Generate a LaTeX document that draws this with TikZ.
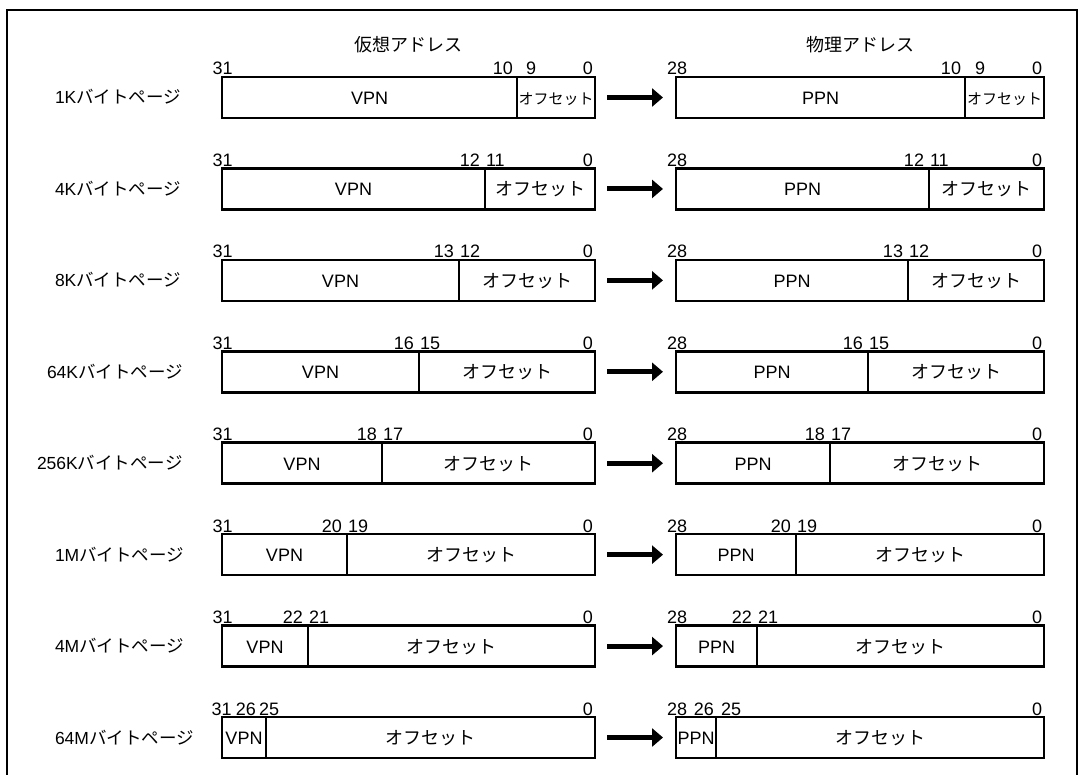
\documentclass[tikz,border=0pt]{standalone}
\usepackage{fontspec}
\setmainfont{Liberation Sans}
\newfontfamily\jp{Noto Sans CJK JP}
\usetikzlibrary{arrows.meta}
\begin{document}
\begin{tikzpicture}[x=1pt,y=-1pt,
  lbox/.style={draw, line width=2.5pt, rectangle, minimum width=373pt, minimum height=41pt, inner sep=0pt, outer sep=0pt, anchor=west},
  rbox/.style={draw, line width=2.5pt, rectangle, minimum width=368pt, minimum height=41pt, inner sep=0pt, outer sep=0pt, anchor=west},
  divline/.style={line width=1.3pt},
  txt/.style={inner sep=0pt, outer sep=0pt, font=\fontsize{18}{20}\selectfont},
  rowlab/.style={inner sep=0pt, outer sep=0pt, font=\fontsize{17.5}{19}\selectfont, anchor=base west},
  maparrow/.style={line width=5pt, -{Triangle[length=11pt,width=18pt]}, shorten <=12pt, shorten >=13pt},
  frame/.style={line width=2pt}
]
\useasboundingbox[fill=white] (0,0) rectangle (1086,775);
\draw[frame] (7,790) -- (7,10) -- (1077,10) -- (1077,790);
\node[txt, anchor=center] (hv) at (408.5,45) {\jp 仮想アドレス};
\node[txt, anchor=center] (hp) at (860,45) {\jp 物理アドレス};
\foreach \i/\lab/\lx/\dl/\dr/\hi/\lo/\ofsz/\ha/\la/\hb/\lb/\tx in {
  1/1K/55/517/965/10/9/15/-4/9/-4/10/212.5,
  2/4K/55/485/929/12/11/18/-5/1/-5/1/212.5,
  3/8K/55/459/908/13/12/18/-5/1/-5/1/212.5,
  4/64K/47/419/868/16/15/18/-5/1/-5/1/212.5,
  5/256K/37/382/830/18/17/18/-5/1/-5/1/212.5,
  6/1M/55/347/796/20/19/18/-5/1/-5/1/212.5,
  7/4M/55/308/757/22/21/18/-5/1/-5/1/212.5,
  8/64M/55/266/716/26/25/18/-10/-7/-2/5/211.5}{
  \pgfmathsetmacro\yc{97.5+(\i-1)*91.43}
  \pgfmathsetmacro\yt{\yc-22.5}
  \pgfmathsetmacro\yb{\yc+7}
  \pgfmathsetmacro\vx{(222+\dl)/2}
  \pgfmathsetmacro\ox{(\dl+595)/2}
  \pgfmathsetmacro\px{(676+\dr)/2}
  \pgfmathsetmacro\qx{(\dr+1044)/2}
  \node[lbox] (L\i) at (222,\yc) {};
  \node[rbox] (R\i) at (676,\yc) {};
  \draw[divline] (\dl,\yc-20.5) -- (\dl,\yc+20.5);
  \draw[divline] (\dr,\yc-20.5) -- (\dr,\yc+20.5);
  \node[rowlab] (lab\i) at (\lx,\yb-0.5) {\lab\jp バイトページ};
  \node[txt, anchor=base] (vpn\i) at (\vx,\yb) {VPN};
  \node[txt, anchor=base] (vof\i) at (\ox,\yb) {\fontsize{\ofsz}{\ofsz}\selectfont\jp オフセット};
  \node[txt, anchor=base] (ppn\i) at (\px,\yb) {PPN};
  \node[txt, anchor=base] (pof\i) at (\qx,\yb) {\fontsize{\ofsz}{\ofsz}\selectfont\jp オフセット};
  \node[txt, anchor=base west] (lt\i) at (\tx,\yt) {31};
  \node[txt, anchor=base east] (lh\i) at (\dl+\ha,\yt) {\hi};
  \node[txt, anchor=base west] (ll\i) at (\dl+\la,\yt) {\lo};
  \node[txt, anchor=base east] (lz\i) at (593,\yt) {0};
  \node[txt, anchor=base west] (rt\i) at (667,\yt) {28};
  \node[txt, anchor=base east] (rh\i) at (\dr+\hb,\yt) {\hi};
  \node[txt, anchor=base west] (rl\i) at (\dr+\lb,\yt) {\lo};
  \node[txt, anchor=base east] (rz\i) at (1042,\yt) {0};
  \draw[maparrow] (L\i.east) -- (R\i.west);
}
\end{tikzpicture}
\end{document}
